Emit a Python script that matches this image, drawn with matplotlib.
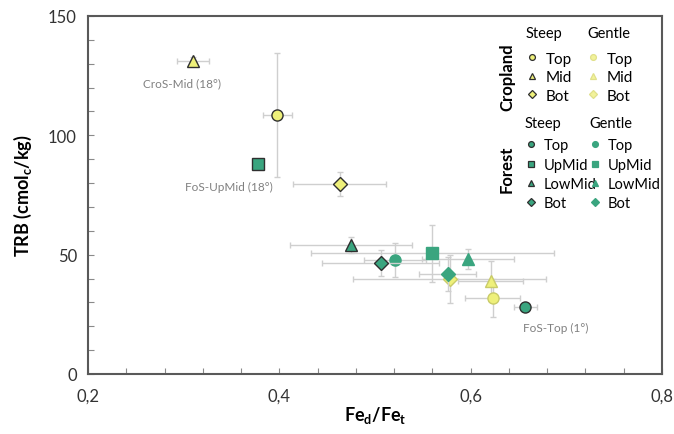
import matplotlib
matplotlib.use("Agg")
import matplotlib.pyplot as plt
from matplotlib.lines import Line2D
from matplotlib.ticker import MultipleLocator

plt.rcParams['font.family'] = ['Lato', 'DejaVu Sans']
plt.rcParams['mathtext.fontset'] = 'custom'
plt.rcParams['mathtext.rm'] = 'Lato'
plt.rcParams['mathtext.bf'] = 'Lato:bold'

# ---------------- data ----------------
# Cropland, steep
cs_pos = ["Top", "Mid", "Bot"]
cs_x = [0.398, 0.310, 0.463]
cs_y = [108.5, 131.0, 79.6]
cs_xerr = [0.015, 0.017, 0.049]
cs_yerr = [26.0, 2.0, 5.0]
# Cropland, gentle
cg_pos = ["Top", "Mid", "Bot"]
cg_x = [0.623, 0.621, 0.578]
cg_y = [31.8, 39.0, 39.8]
cg_xerr = [0.029, 0.034, 0.101]
cg_yerr = [8.0, 8.5, 10.0]
# Forest, steep
fs_pos = ["Top", "UpMid", "LowMid", "Bot"]
fs_x = [0.657, 0.378, 0.475, 0.506]
fs_y = [28.0, 88.0, 54.0, 46.5]
fs_xerr = [0.012, 0.0, 0.064, 0.061]
fs_yerr = [1.5, 0.0, 3.5, 5.5]
# Forest, gentle
fg_pos = ["Top", "UpMid", "LowMid", "Bot"]
fg_x = [0.521, 0.560, 0.597, 0.576]
fg_y = [47.8, 50.5, 48.2, 41.9]
fg_xerr = [0.032, 0.127, 0.048, 0.030]
fg_yerr = [7.0, 12.0, 4.0, 7.0]

annot_text = ["CroS-Mid (18°)", "FoS-UpMid (18°)", "FoS-Top (1°)"]
annot_x = [0.310, 0.378, 0.657]
annot_y = [131.0, 88.0, 28.0]
annot_off = [(-8, -15.5), (-21, -16.5), (22, -14.5)]

xticks = [0.2, 0.4, 0.6, 0.8]
xtick_labels = ["0,2", "0,4", "0,6", "0,8"]
yticks = [0, 50, 100, 150]

markers = {"Top": "o", "Mid": "^", "Bot": "D", "UpMid": "s", "LowMid": "^"}
msize = {"o": 8, "^": 9, "D": 7, "s": 8}

yellow = "#eef07a"
green = "#3aa57f"
dark_edge = "#2f2f2f"
err_col = "#cfcfcf"

fig = plt.figure(figsize=(6.74, 4.35), dpi=100)
ax = fig.add_axes([88 / 674, 1 - 375 / 435, (662 - 88) / 674, (375 - 17) / 435])

def draw(xs, ys, xe, ye, pos, fc, ec, z):
    for x, y, dx, dy, p in zip(xs, ys, xe, ye, pos):
        m = markers[p]
        ax.errorbar(x, y, xerr=dx if dx > 0 else None, yerr=dy if dy > 0 else None,
                    fmt=m, ms=msize[m], mfc=fc, mec=ec, mew=1.0,
                    ecolor=err_col, elinewidth=1.0, capsize=2.5, capthick=1.0,
                    zorder=z)

draw(cg_x, cg_y, cg_xerr, cg_yerr, cg_pos, yellow, "#c9cb68", 3)
draw(fg_x, fg_y, fg_xerr, fg_yerr, fg_pos, green, green, 4)
draw(cs_x, cs_y, cs_xerr, cs_yerr, cs_pos, yellow, dark_edge, 5)
draw(fs_x, fs_y, fs_xerr, fs_yerr, fs_pos, green, dark_edge, 5)

for t, x, y, off in zip(annot_text, annot_x, annot_y, annot_off):
    ax.annotate(t, (x, y), xytext=off, textcoords="offset points",
                ha="center", va="center", fontsize=8.5, color="#808080")

ax.set_xlim(0.2, 0.8)
ax.set_ylim(0, 150)
ax.set_xticks(xticks)
ax.set_xticklabels(xtick_labels)
ax.set_yticks(yticks)
ax.xaxis.set_minor_locator(MultipleLocator(0.04))
ax.yaxis.set_minor_locator(MultipleLocator(10))
ax.tick_params(which="both", direction="in", length=4, width=0.8, color="#8a8a8a",
               labelsize=12, labelcolor="#333333", pad=8)
ax.tick_params(axis="x", pad=10)
for s in ax.spines.values():
    s.set_color("#595959")
    s.set_linewidth(1.5)

ax.set_xlabel(r"Fe$_\mathbf{d}$/Fe$_\mathbf{t}$", fontsize=13, fontweight="bold", labelpad=0)
ax.set_ylabel(r"TRB (cmol$_\mathbf{c}$/kg)", fontsize=13, fontweight="bold", labelpad=10)

# ---------------- legend ----------------
def handles(pos, fc, ec):
    return [Line2D([], [], ls="none", marker=markers[p], ms=4.2 if markers[p] != "D" else 3.6,
                   mfc=fc, mec=ec, mew=0.9) for p in pos]

def add_leg(pos, fc, ec, title, x_px, y_px, spacing, sep, fs):
    leg = ax.legend(handles(pos, fc, ec), pos, title=title, loc="upper left",
                    bbox_to_anchor=(x_px / 674, 1 - y_px / 435),
                    bbox_transform=fig.transFigure, frameon=False, fontsize=fs,
                    title_fontsize=10.5, handlelength=0.8, handletextpad=0.5,
                    labelspacing=spacing, borderpad=0, borderaxespad=0,
                    alignment="left")
    # a little more space between title and first entry
    leg._legend_box.sep = sep * 11 * 100 / 72
    ax.add_artist(leg)

add_leg(cs_pos, yellow, dark_edge, "Steep", 526, 27, 0.30, 0.55, 11)
add_leg(cg_pos, "#f2f29a", "#e0e08a", "Gentle", 587, 27, 0.30, 0.55, 11)
add_leg(fs_pos, green, dark_edge, "Steep", 525, 117, 0.36, 0.40, 10.5)
add_leg(fg_pos, green, green, "Gentle", 589, 117, 0.36, 0.40, 10.5)
ax.legend_ = None

fig.text(507 / 674, 1 - 77 / 435, "Cropland", rotation=90, ha="center", va="center",
         fontsize=12, fontweight="bold")
fig.text(507 / 674, 1 - 169 / 435, "Forest", rotation=90, ha="center", va="center",
         fontsize=12, fontweight="bold")

fig.savefig("out.png", dpi=100)
